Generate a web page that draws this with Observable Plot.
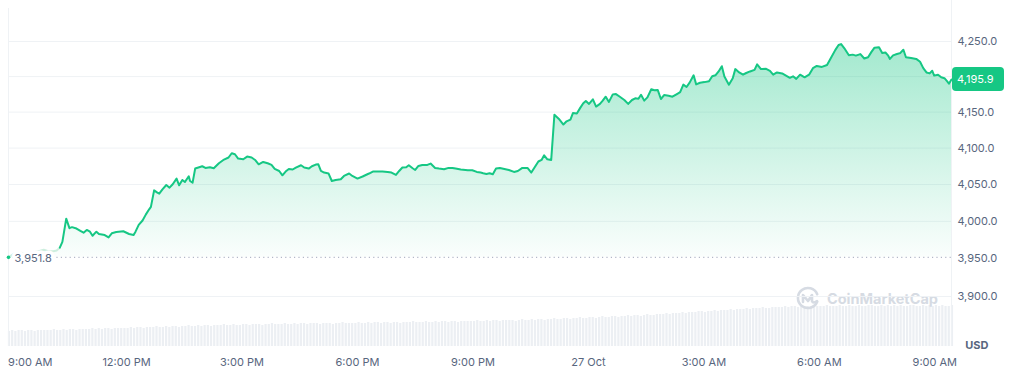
<!DOCTYPE html>
<html><head><meta charset="utf-8">
<script src="https://cdn.jsdelivr.net/npm/d3@7"></script>
<script src="https://cdn.jsdelivr.net/npm/@observablehq/plot@0.6"></script>
<style>
body{margin:0;background:#fff;font-family:Inter,sans-serif;}
#wrap{position:relative;width:1013px;height:372px;overflow:hidden;}
#wrap > svg, #wrap > div{position:absolute;left:0;top:0;}
</style></head><body><div id="wrap"></div>
<script>
// ---- data ----
const startTime = "2025-10-26T09:00Z";          // minutes are counted from here
const minutes = [-4,4,12,23,33,43,51,58,66,71,76,80,86,91,95,102,108,113,118,123,127,133,137,146,152,157,164,175,184,191,194,199,205,210,215,218,223,228,231,236,242,247,252,258,262,267,271,277,279,283,287,292,298,303,310,316,324,332,339,344,349,354,362,368,375,381,386,393,400,406,411,418,423,428,433,439,444,452,457,464,469,475,479,483,488,495,500,506,514,519,527,532,540,548,558,564,571,579,587,593,600,605,610,616,620,626,630,635,641,649,654,661,667,675,682,688,693,701,712,719,726,732,736,741,746,751,756,762,769,776,784,790,797,805,811,817,822,827,831,836,842,847,854,861,866,872,876,882,887,892,896,901,907,912,918,922,927,932,938,943,949,956,962,968,973,978,982,987,992,998,1003,1008,1013,1018,1025,1031,1038,1043,1048,1053,1058,1064,1068,1074,1081,1088,1093,1098,1103,1108,1112,1119,1125,1129,1135,1141,1146,1152,1159,1163,1169,1177,1183,1188,1194,1202,1208,1214,1219,1224,1230,1237,1244,1250,1256,1264,1272,1278,1285,1290,1294,1299,1306,1312,1317,1324,1330,1336,1341,1346,1353,1358,1363,1367,1370,1375,1381,1386,1391,1395,1403,1411,1417,1422,1427,1432,1436,1439,1445,1450,1455,1459,1462,1466];
const prices = [3951.8,3956.5,3958.2,3956.9,3958.2,3960.0,3961.9,3960.0,3960.0,3961.0,3964.7,3972.4,4003.6,3990.8,3992.2,3990.3,3987.1,3984.7,3988.5,3986.1,3980.6,3986.1,3983.0,3981.6,3978.4,3983.9,3985.7,3986.7,3983.0,3981.6,3986.1,3995.3,4001.2,4009.1,4015.9,4019.6,4042.0,4038.9,4037.5,4043.4,4049.3,4045.7,4050.3,4058.1,4048.9,4056.2,4053.4,4061.3,4054.8,4052.6,4071.8,4073.2,4075.0,4072.7,4073.6,4072.3,4079.1,4084.2,4087.0,4092.9,4091.5,4085.6,4084.6,4088.3,4087.0,4083.2,4077.7,4080.9,4079.1,4076.8,4071.3,4068.5,4062.6,4067.7,4071.3,4070.5,4073.2,4076.4,4073.2,4071.8,4075.0,4077.3,4077.7,4068.5,4066.3,4065.0,4054.8,4056.2,4057.1,4061.7,4065.0,4061.7,4058.1,4060.9,4065.0,4067.7,4067.7,4067.7,4067.2,4066.3,4063.0,4068.5,4073.2,4073.6,4076.4,4072.3,4069.9,4075.4,4076.8,4076.8,4078.7,4072.7,4071.8,4070.9,4072.7,4072.7,4071.8,4070.5,4069.5,4069.5,4067.2,4066.3,4065.4,4064.4,4065.4,4064.0,4071.8,4072.7,4071.3,4069.9,4067.2,4068.5,4072.7,4072.7,4066.3,4074.6,4081.5,4083.7,4090.1,4084.6,4083.7,4146.4,4140.5,4132.7,4137.2,4139.6,4148.8,4148.2,4155.6,4162.5,4165.7,4161.5,4168.0,4157.8,4161.5,4165.7,4171.6,4164.3,4174.9,4175.3,4171.6,4167.0,4161.5,4167.0,4169.4,4168.8,4174.3,4166.1,4170.7,4182.1,4180.8,4181.2,4168.4,4173.9,4172.9,4171.6,4175.3,4178.0,4188.6,4185.3,4191.8,4201.8,4189.0,4191.3,4192.2,4193.5,4200.4,4201.8,4207.3,4214.7,4200.0,4188.6,4197.7,4210.6,4205.9,4202.7,4205.1,4207.3,4209.6,4217.4,4210.6,4211.0,4208.2,4202.7,4205.9,4204.5,4201.4,4198.2,4200.4,4196.8,4202.7,4199.0,4202.7,4211.9,4215.1,4213.7,4216.5,4226.5,4238.0,4244.9,4246.3,4240.2,4230.2,4231.2,4229.8,4232.0,4225.7,4227.5,4234.8,4241.2,4241.6,4233.4,4234.3,4230.2,4225.1,4230.2,4232.0,4233.4,4238.1,4227.5,4226.5,4225.1,4221.0,4212.0,4205.9,4204.5,4208.2,4201.4,4202.7,4199.0,4197.7,4193.5,4190.0,4195.9];
const fadedUntilMinute = 76;
const baselinePrice = 3951.8;
const lastPrice = 4195.9;
const gridPrices = [3900, 4000, 4050, 4100, 4150, 4200, 4250];
const yTickPrices = [3900, 3950, 4000, 4050, 4100, 4150, 4250];   // 4,200.0 sits under the price badge
const xTickTimes = ["2025-10-26T09:00Z","2025-10-26T12:00Z","2025-10-26T15:00Z","2025-10-26T18:00Z","2025-10-26T21:00Z","2025-10-27T00:00Z","2025-10-27T03:00Z","2025-10-27T06:00Z","2025-10-27T09:00Z"];
const xTickLabels = ["9:00 AM","12:00 PM","3:00 PM","6:00 PM","9:00 PM","27 Oct","3:00 AM","6:00 AM","9:00 AM"];
const volumeStart = "2025-10-26T08:55Z";     // 5-minute volume bars
const volumes = [
 15,16,15,16,16,15,16,16,15,16,16,16,
 16,16,17,16,16,17,16,17,17,16,17,17,
 17,17,18,17,18,17,18,18,17,18,18,18,
 18,18,19,18,19,19,18,19,19,19,20,19,
 19,20,19,20,20,19,20,20,21,20,20,21,
 20,21,21,20,21,21,21,22,21,21,22,21,
 21,22,22,21,22,22,22,21,22,22,23,22,
 22,22,23,22,22,23,22,23,23,22,23,23,
 23,22,23,23,23,22,23,23,24,23,23,23,
 23,24,23,23,24,23,24,24,23,24,24,23,
 24,24,23,24,24,24,25,24,24,24,25,24,
 24,25,24,25,25,24,25,25,24,25,25,25,
 25,25,26,25,25,26,25,26,26,25,26,26,
 26,26,25,26,27,26,26,27,26,27,27,26,
 27,27,28,27,27,28,28,27,28,28,29,28,
 28,29,29,28,29,30,29,29,30,30,29,30,
 30,31,30,31,31,30,31,32,31,31,32,32,
 32,33,32,33,33,33,34,33,34,34,34,35,
 35,34,35,35,36,35,36,36,36,37,36,37,
 37,37,38,37,38,38,38,39,38,38,39,39,
 39,39,40,39,40,40,39,40,40,40,40,40,
 40,40,40,41,40,40,40,41,40,40,41,40,
 40,41,40,40,41,41,40,40,41,40,41,40,
 41,40,41,40,40,41,41,40,40,41,40,41,
 40,41,40,41,40,40,41
];

// ---- build tables ----
const t0 = new Date(startTime).getTime();
const v0 = new Date(volumeStart).getTime();
const n = Math.min(minutes.length, prices.length);
const series = [];
for (let i = 0; i < n; i++) series.push({date: new Date(t0 + minutes[i] * 60000), price: prices[i], m: minutes[i]});
const faded = series.filter(d => d.m <= fadedUntilMinute);
const main = series.filter(d => d.m >= fadedUntilMinute);
const vol = volumes.map((v, i) => ({x1: new Date(v0 + i * 300000), x2: new Date(v0 + (i + 1) * 300000), v}));
const xTicks = xTickTimes.map((s, i) => ({date: new Date(s), label: xTickLabels[i]}));
const xDomain = [series[0].date, series[n - 1].date];

const W = 1013, H = 372;
const margins = {marginLeft: 8, marginRight: 62, marginTop: 8, marginBottom: 26};
const fmt = d3.format(",.1f");
const GREEN = "#16c784", GREY = "#58667e";

// volume layer (own scale, bottom strip)
const volPlot = Plot.plot({
  width: W, height: H, ...margins,
  style: {background: "transparent"},
  x: {type: "time", domain: xDomain, axis: null},
  y: {domain: [0, 338], axis: null},
  marks: [
    Plot.rectY(vol, {x1: "x1", x2: "x2", y: "v", fill: "#eceff3", insetLeft: 0.5, insetRight: 0.5})
  ]
});

function gradientDefs(index, scales) {
  const svg = d3.create("svg:defs");
  const g = svg.append("linearGradient").attr("id", "areaGrad")
    .attr("gradientUnits", "userSpaceOnUse")
    .attr("x1", 0).attr("x2", 0)
    .attr("y1", scales.y(4250)).attr("y2", scales.y(baselinePrice));
  g.append("stop").attr("offset", 0).attr("stop-color", GREEN).attr("stop-opacity", 0.4);
  g.append("stop").attr("offset", 1).attr("stop-color", GREEN).attr("stop-opacity", 0.02);
  return svg.node();
}
function badge(index, scales, values, dims) {
  const g = d3.create("svg:g");
  const y = scales.y(lastPrice);
  const x0 = dims.width - dims.marginRight + 1;
  g.append("rect").attr("x", x0).attr("y", y - 12).attr("width", 52).attr("height", 24).attr("rx", 4).attr("fill", GREEN);
  g.append("text").attr("x", x0 + 5).attr("y", y).attr("dy", "0.35em").attr("fill", "white")
    .attr("text-anchor", "start").attr("font-size", 11).attr("font-family", "Inter").text(fmt(lastPrice));
  return g.node();
}

const mainPlot = Plot.plot({
  width: W, height: H, ...margins,
  style: {background: "transparent", fontFamily: "Inter", fontSize: "11px"},
  x: {type: "time", domain: xDomain, axis: null},
  y: {type: "log", domain: [3834.8, 4297.5], axis: null},
  marks: [
    gradientDefs,
    Plot.ruleY(gridPrices, {stroke: "#eff2f5", strokeWidth: 1}),
    Plot.ruleX([xDomain[0]], {stroke: "#eff2f5"}),
    Plot.ruleX([xDomain[1]], {stroke: "#eff2f5", insetTop: -8}),
    Plot.areaY(series, {x: "date", y1: baselinePrice, y2: "price", fill: "url(#areaGrad)"}),
    Plot.ruleY([baselinePrice], {stroke: "#a1a7bb", strokeDasharray: "1.2,3.2", strokeWidth: 1}),
    Plot.line(faded, {x: "date", y: "price", stroke: "#cdeede", strokeWidth: 2}),
    Plot.line(main, {x: "date", y: "price", stroke: GREEN, strokeWidth: 2, strokeLinejoin: "round"}),
    Plot.dot([series[0]], {x: "date", y: "price", r: 1.8, fill: GREEN}),
    Plot.text([series[0]], {x: "date", y: baselinePrice, text: () => fmt(baselinePrice), textAnchor: "start", dx: 6, dy: 1.5, fill: GREY, fontSize: 11, stroke: "white", strokeWidth: 7}),
    Plot.text(yTickPrices, {x: xDomain[1], y: d => d, text: d => fmt(d), textAnchor: "start", dx: 6, fill: GREY, fontSize: 11}),
    badge,
    Plot.text(xTicks.slice(0, 1), {x: "date", text: "label", frameAnchor: "bottom", lineAnchor: "middle", dy: 16, textAnchor: "start", dx: -3, fill: GREY, fontSize: 11}),
    Plot.text(xTicks.slice(1), {x: "date", text: "label", frameAnchor: "bottom", lineAnchor: "middle", dy: 16, fill: GREY, fontSize: 11}),
    Plot.text(["USD"], {frameAnchor: "bottom-right", lineAnchor: "middle", text: d => d, dx: 37, dy: -1, textAnchor: "end", fill: GREY, fontSize: 11, fontWeight: 700})
  ]
});

const wrap = document.getElementById("wrap");
wrap.appendChild(volPlot);
const wm = document.createElement("div");
wm.innerHTML = `<svg width="1013" height="372" xmlns="http://www.w3.org/2000/svg">
  <g transform="translate(808,298)" fill="none" stroke="#d6dbe3" stroke-width="2.6" stroke-linecap="round" stroke-linejoin="round">
    <path d="M9.2,-3.8 A10,10 0 1 0 9.2,3.8"/>
    <path d="M-5,4 L-5,-3 L0,3 L4,-3 L4,3 Q5,6 9,3"/>
  </g>
  <text x="827" y="303.5" fill="#d6dbe3" font-family="Inter" font-weight="700" font-size="14.5">CoinMarketCap</text>
</svg>`;
wrap.appendChild(wm);
wrap.appendChild(mainPlot);
</script>
</body></html>
